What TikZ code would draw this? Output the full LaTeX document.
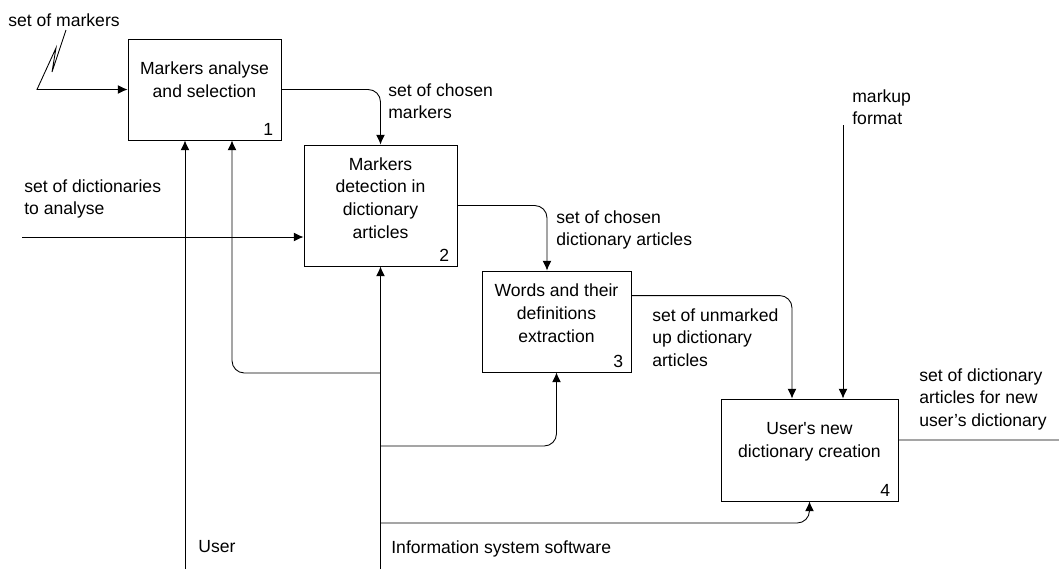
\documentclass[tikz,border=0pt]{standalone}
\usepackage{fontspec}
\setmainfont{Liberation Sans}
\usepackage{tikz}
\usetikzlibrary{positioning}
\usetikzlibrary{arrows.meta}

\begin{document}
\begin{tikzpicture}[x=0.02cm,y=-0.02cm,>={Latex[length=5.5pt,width=5pt]},font=\fontsize{10}{13}\selectfont,
    proc/.style={draw,line width=0.5pt,inner sep=0pt},
    ptext/.style={align=center,inner sep=0pt},
    num/.style={anchor=south east,inner xsep=4.5pt,inner ysep=2.5pt},
    lbl/.style={anchor=north west,align=left,inner sep=0pt},
    flow/.style={->,line width=0.5pt,rounded corners=7pt}]
  \useasboundingbox (0,0) rectangle (1059,569);

  \node[proc,minimum width=3.06cm,minimum height=2.02cm] (p1) at (204.5,89.5)  {};
  \node[proc,minimum width=3.06cm,minimum height=2.42cm] (p2) at (380.5,205.5) {};
  \node[proc,minimum width=2.98cm,minimum height=2.02cm] (p3) at (556.5,321.5) {};
  \node[proc,minimum width=3.54cm,minimum height=2.04cm] (p4) at (809.5,450)   {};

  \node[ptext] (t1) at ([yshift=0.2cm]p1.center)  {Markers analyse\\and selection};
  \node[ptext] (t2) at ([yshift=0.15cm]p2.center) {Markers\\detection in\\dictionary\\articles};
  \node[ptext] (t3) at ([yshift=0.17cm]p3.center) {Words and their\\definitions\\extraction};
  \node[ptext] (t4) at ([yshift=0.17cm]p4.center) {User\textquotesingle s new\\dictionary creation};

  \node[num] (n1) at (p1.south east) {1};
  \node[num] (n2) at (p2.south east) {2};
  \node[num] (n3) at (p3.south east) {3};
  \node[num] (n4) at (p4.south east) {4};

  \coordinate (sm)  at (66,30);
  \coordinate (sd)  at (22,237);
  \coordinate (mf)  at (843,125);
  \coordinate (out) at (1059,440);
  \coordinate (usr) at (185,569);
  \coordinate (isw) at (380.5,569);
  \coordinate (j1)  at (380.5,373);
  \coordinate (j2)  at (380.5,446);
  \coordinate (j3)  at (380.5,523);

  \draw[flow,rounded corners=0pt] (sm) -- (52,72) -- (56,48) -- (37,89.5) -- (p1.west);
  \draw[flow] (p1.east) -| (p2.north);
  \draw[flow] (sd) -- (sd -| p2.west);
  \draw[flow] (p2.east) -| ([xshift=-0.19cm]p3.north);
  \draw[flow] ([yshift=-0.5cm]p3.north east) -| ([xshift=-0.35cm]p4.north);
  \draw[flow] (mf) -- (mf |- p4.north);
  \draw[line width=0.5pt] ([yshift=0.2cm]p4.east) -- (out);
  \draw[flow] (usr) -- (usr |- p1.south);
  \draw[flow] (isw) -- (p2.south);
  \draw[flow] (j1) -| ([xshift=0.55cm]p1.south);
  \draw[flow] (j2) -| (p3.south);
  \draw[flow] (j3) -| (p4.south);

  \node[lbl] (l1) at (8,13)    {set of markers};
  \node[lbl] (l2) at (388,83)  {set of chosen\\markers};
  \node[lbl] (l3) at (24,179)  {set of dictionaries\\to analyse};
  \node[lbl] (l4) at (556,210) {set of chosen\\dictionary articles};
  \node[lbl] (l5) at (652,308) {set of unmarked\\up dictionary\\articles};
  \node[lbl] (l6) at (852,89)  {markup\\format};
  \node[lbl] (l7) at (919,368) {set of dictionary\\articles for new\\user’s dictionary};
  \node[lbl] (l8) at (198,540) {User};
  \node[lbl] (l9) at (391,540) {Information system software};
\end{tikzpicture}
\end{document}
